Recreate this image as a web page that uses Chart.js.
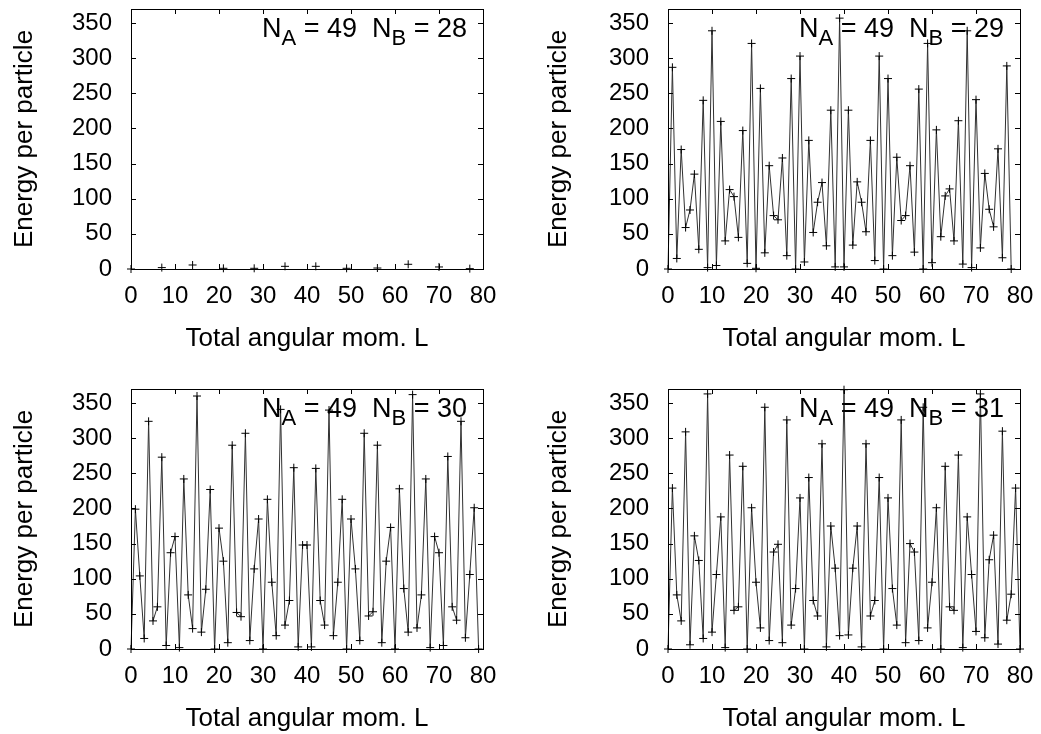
<!DOCTYPE html>
<html lang="en">
<head>
  <meta charset="UTF-8">
  <title>Energy per particle vs total angular momentum</title>
  <script src="https://cdn.jsdelivr.net/npm/chart.js"></script>
  <style>
    body {
      margin: 0;
      background: #fff;
      width: 1041px;
      height: 734px;
      position: relative;
      overflow: hidden;
    }
    canvas { position: absolute; }
  </style>
</head>
<body>
  <canvas id="p28" width="520" height="354" style="left:0px;top:0px"></canvas>
  <canvas id="p29" width="505" height="354" style="left:536px;top:0px"></canvas>
  <canvas id="p30" width="520" height="354" style="left:0px;top:380px"></canvas>
  <canvas id="p31" width="505" height="354" style="left:536px;top:380px"></canvas>

  <script>
    // N_A = 49 in all panels
    const nA = 49;

    // N_B = 28: only every 7th L has a state
    const lNB28 = [0, 7, 14, 21, 28, 35, 42, 49, 56, 63, 70, 77];
    const eNB28 = [0, 2, 5.7, 1, 1, 3.8, 3.8, 1, 1.4, 6.7, 2.9, 0.5];

    // N_B = 29, L = 0..78
    const eNB29 = [
      0, 287, 15, 170, 59, 84, 135, 28, 240, 2,
      339, 5, 210, 40, 113, 103, 45, 197, 8, 321,
      1, 257, 23, 147, 76, 70, 158, 19, 271, 0,
      303, 10, 183, 52, 95, 123, 33, 226, 3, 357,
      3, 226, 34, 124, 95, 53, 183, 12, 303, 0,
      271, 19, 159, 69, 76, 147, 24, 256, 0, 321,
      9, 198, 46, 104, 114, 40, 211, 7, 339, 2,
      241, 30, 136, 85, 60, 171, 16, 289, 0
    ];

    // N_B = 30, L = 0..79
    const eNB30 = [
      0, 199, 104, 15, 324, 40, 60, 273, 5, 137,
      160, 2, 242, 77, 29, 360, 24, 85, 227, 0,
      172, 125, 9, 290, 52, 46, 307, 12, 114, 185,
      0, 213, 95, 19, 341, 34, 69, 258, 3, 148,
      148, 3, 257, 69, 34, 340, 19, 95, 213, 0,
      185, 114, 12, 307, 47, 53, 290, 9, 125, 173,
      0, 228, 86, 24, 362, 30, 77, 242, 2, 160,
      137, 5, 274, 60, 41, 324, 16, 106, 201, 0
    ];

    // N_B = 31, L = 0..80
    const eNB31 = [
      0, 229, 77, 40, 309, 6, 161, 126, 15, 363,
      24, 106, 188, 2, 276, 55, 60, 260, 0, 201,
      95, 30, 344, 12, 138, 149, 9, 326, 34, 86,
      215, 0, 244, 69, 47, 292, 3, 175, 115, 19,
      369, 20, 115, 175, 3, 292, 47, 69, 244, 0,
      215, 86, 34, 326, 9, 150, 138, 12, 344, 30,
      95, 201, 0, 260, 60, 55, 276, 2, 188, 106,
      25, 363, 16, 127, 162, 7, 310, 41, 78, 229,
      0
    ];

    const xTicks = [0, 10, 20, 30, 40, 50, 60, 70, 80];
    const yTicks = [0, 50, 100, 150, 200, 250, 300, 350];

    const FONT = '"Liberation Sans", Arial, Helvetica, sans-serif';

    // gnuplot-style frame with inward ticks on all four sides + N_A/N_B label
    const framePlugin = {
      id: 'frame',
      afterDatasetsDraw(chart, args, opts) {
        const { ctx, chartArea: a, scales: { x, y } } = chart;
        ctx.save();
        ctx.strokeStyle = '#000';
        ctx.lineWidth = 1;
        ctx.beginPath();
        xTicks.forEach(v => {
          const px = Math.round(x.getPixelForValue(v)) + 0.5;
          ctx.moveTo(px, a.bottom); ctx.lineTo(px, a.bottom - 5);
          ctx.moveTo(px, a.top); ctx.lineTo(px, a.top + 5);
        });
        yTicks.forEach(v => {
          const py = Math.round(y.getPixelForValue(v)) + 0.5;
          ctx.moveTo(a.left, py); ctx.lineTo(a.left + 5, py);
          ctx.moveTo(a.right, py); ctx.lineTo(a.right - 5, py);
        });
        ctx.stroke();
        ctx.strokeRect(Math.round(a.left) + 0.5, Math.round(a.top) + 0.5,
                       Math.round(a.width), Math.round(a.height));

        // label "N_A = 49  N_B = xx"
        const parts = [
          ['N', 27, 0], ['A', 22, 8], [' = ' + nA + '  N', 27, 0],
          ['B', 22, 8], [' = ' + opts.nB, 27, 0]
        ];
        let total = 0;
        parts.forEach(p => {
          ctx.font = p[1] + 'px ' + FONT;
          total += ctx.measureText(p[0]).width;
        });
        let tx = a.right - 16 - total;
        const base = a.top + 28;
        ctx.fillStyle = '#000';
        ctx.textBaseline = 'alphabetic';
        ctx.textAlign = 'left';
        parts.forEach(p => {
          ctx.font = p[1] + 'px ' + FONT;
          ctx.fillText(p[0], tx, base + p[2]);
          tx += ctx.measureText(p[0]).width;
        });
        ctx.restore();
      }
    };

    // stop Chart.js from reserving room for overhanging tick labels
    function noOverhang(s) {
      s.paddingTop = 0;
      s.paddingBottom = 0;
      s.paddingLeft = 0;
      s.paddingRight = 0;
    }

    function makePanel(id, points, nB, yW, yTitlePad, withLine) {
      const canvas = document.getElementById(id);
      const w = canvas.width;
      new Chart(canvas.getContext('2d'), {
        type: 'line',
        data: {
          datasets: [{
            data: points,
            showLine: withLine,
            borderColor: '#303030',
            borderWidth: 1,
            tension: 0,
            pointStyle: 'cross',
            pointRadius: 4,
            pointBorderColor: '#000',
            pointBorderWidth: 1,
            clip: false
          }]
        },
        options: {
          responsive: false,
          animation: false,
          events: [],
          layout: { padding: { left: 0, top: 9, right: w - yW - 352, bottom: 0 } },
          plugins: {
            legend: { display: false },
            tooltip: { enabled: false },
            frame: { nB: nB }
          },
          scales: {
            x: {
              type: 'linear',
              min: 0,
              max: 80,
              grid: { display: false, drawTicks: false },
              border: { display: false },
              afterBuildTicks: s => { s.ticks = xTicks.map(v => ({ value: v })); },
              afterFit: s => { s.height = 85; noOverhang(s); },
              ticks: { color: '#000', padding: 13, maxRotation: 0, font: { family: FONT, size: 24 } },
              title: {
                display: true,
                text: 'Total angular mom. L',
                color: '#000',
                padding: { top: 3, bottom: 0 },
                font: { family: FONT, size: 26 }
              }
            },
            y: {
              min: 0,
              max: 370,
              grid: { display: false, drawTicks: false },
              border: { display: false },
              afterBuildTicks: s => { s.ticks = yTicks.map(v => ({ value: v })); },
              afterFit: s => { s.width = yW; noOverhang(s); },
              ticks: { color: '#000', padding: 19, font: { family: FONT, size: 24 } },
              title: {
                display: true,
                text: 'Energy per particle',
                color: '#000',
                padding: { top: yTitlePad, bottom: 0 },
                font: { family: FONT, size: 26 }
              }
            }
          }
        },
        plugins: [framePlugin]
      });
    }

    const pts28 = lNB28.map((l, i) => ({ x: l, y: eNB28[i] }));
    const pts29 = eNB29.map((e, l) => ({ x: l, y: e }));
    const pts30 = eNB30.map((e, l) => ({ x: l, y: e }));
    const pts31 = eNB31.map((e, l) => ({ x: l, y: e }));

    makePanel('p28', pts28, 28, 131, 9, false);
    makePanel('p29', pts29, 29, 132, 7, true);
    makePanel('p30', pts30, 30, 131, 9, true);
    makePanel('p31', pts31, 31, 132, 7, true);
  </script>
</body>
</html>
